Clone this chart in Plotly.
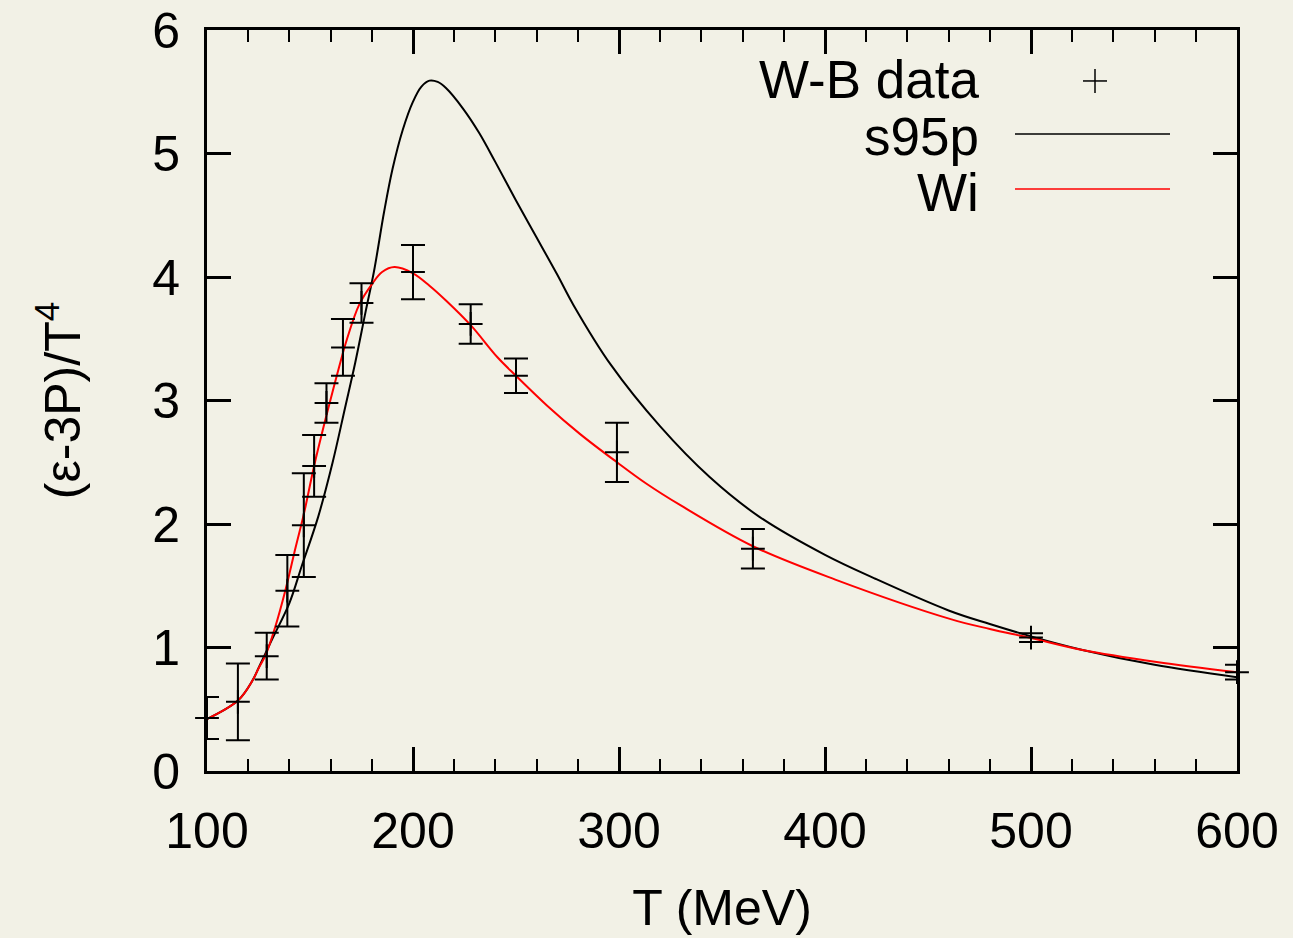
import plotly.graph_objects as go

# ---- data ----
wb_T = [100, 115, 129, 139, 147, 152, 158, 166, 175, 200, 228, 250, 299, 365, 500, 600]
wb_val = [0.43, 0.56, 0.93, 1.46, 1.99, 2.47, 2.98, 3.43, 3.79, 4.04, 3.62, 3.20, 2.58, 1.80, 1.08, 0.80]
wb_err = [0.17, 0.31, 0.19, 0.29, 0.42, 0.25, 0.16, 0.23, 0.16, 0.22, 0.16, 0.14, 0.24, 0.16, 0.035, 0.06]

s95p_T = [100, 115, 122, 126, 132, 140, 146, 154, 161, 167, 172, 177, 181, 186, 190, 195, 200,
          204, 208, 212, 216, 224, 232, 240, 250, 260, 270, 278, 296, 320, 344, 368, 400, 424,
          460, 480, 500, 525, 560, 600]
s95p_val = [0.42, 0.57, 0.73, 0.87, 1.08, 1.36, 1.66, 2.06, 2.50, 2.94, 3.31, 3.72, 4.04, 4.53,
            4.87, 5.19, 5.42, 5.54, 5.59, 5.58, 5.53, 5.37, 5.17, 4.93, 4.62, 4.32, 4.02, 3.77,
            3.29, 2.79, 2.38, 2.06, 1.75, 1.56, 1.30, 1.19, 1.09, 0.98, 0.86, 0.76]

wi_T = [100, 115, 122, 125, 128.5, 133, 138, 143, 147, 152, 158, 163, 168, 174, 180, 185, 191,
        200, 208, 216, 228, 241, 250, 265, 281, 299, 313, 330, 365, 405, 461, 480, 500,
        525, 561, 600]
wi_val = [0.42, 0.57, 0.73, 0.83, 0.94, 1.16, 1.46, 1.81, 2.08, 2.47, 2.88, 3.20, 3.50, 3.78,
          3.94, 4.04, 4.08, 4.03, 3.93, 3.81, 3.61, 3.35, 3.20, 2.96, 2.73, 2.50, 2.33, 2.15,
          1.82, 1.55, 1.23, 1.15, 1.077, 0.98, 0.883, 0.80]

legend_labels = ["W-B data", "s95p", "Wi"]

BG = "rgb(242,241,230)"
FONT = "Liberation Sans, Arial, sans-serif"

fig = go.Figure()
fig.add_trace(go.Scatter(x=s95p_T, y=s95p_val, mode="lines", name="s95p",
                         line=dict(color="black", width=2, shape="spline", smoothing=1.0),
                         showlegend=False))
fig.add_trace(go.Scatter(x=wi_T, y=wi_val, mode="lines", name="Wi",
                         line=dict(color="rgb(255,0,0)", width=2, shape="spline", smoothing=1.0),
                         showlegend=False))
fig.add_trace(go.Scatter(x=wb_T, y=wb_val, mode="markers", name="W-B data",
                         marker=dict(symbol="cross-thin", size=17,
                                     line=dict(color="black", width=2)),
                         error_y=dict(type="data", array=wb_err, visible=True,
                                      color="black", thickness=2, width=12),
                         cliponaxis=False, showlegend=False))

# ---- manual legend (text left, sample right) ----
def px2paper_x(px):
    return (px - 207) / 1030.0

def px2paper_y(py):
    return (771.5 - py) / 741.5

text_y = [80, 137, 193]
for lab, ty in zip(legend_labels, text_y):
    fig.add_annotation(x=px2paper_x(981), y=px2paper_y(ty), xref="paper", yref="paper",
                       text=lab, showarrow=False, xanchor="right", yanchor="middle",
                       font=dict(family=FONT, size=53, color="black"))

# plus sample
cx, cy = px2paper_x(1095), px2paper_y(81)
fig.add_shape(type="line", xref="paper", yref="paper",
              x0=cx - 12 / 1030, x1=cx + 12 / 1030, y0=cy, y1=cy,
              line=dict(color="black", width=1.5))
fig.add_shape(type="line", xref="paper", yref="paper",
              x0=cx, x1=cx, y0=cy - 12 / 741.5, y1=cy + 12 / 741.5,
              line=dict(color="black", width=1.5))
# line samples
fig.add_shape(type="line", xref="paper", yref="paper",
              x0=px2paper_x(1015), x1=px2paper_x(1170), y0=px2paper_y(134), y1=px2paper_y(134),
              line=dict(color="black", width=1.5))
fig.add_shape(type="line", xref="paper", yref="paper",
              x0=px2paper_x(1015), x1=px2paper_x(1170), y0=px2paper_y(189), y1=px2paper_y(189),
              line=dict(color="rgb(255,0,0)", width=1.5))

axis_common = dict(showgrid=False, zeroline=False, showline=True, linecolor="black",
                   linewidth=3, mirror="allticks", ticks="inside", tickcolor="black",
                   tickwidth=3, ticklen=24,
                   tickfont=dict(family=FONT, size=50, color="black"))

fig.update_xaxes(range=[100, 600], tick0=100, dtick=100,
                 minor=dict(dtick=20, ticks="inside", ticklen=12, tickwidth=2, tickcolor="black"),
                 ticklabelstandoff=14,
                 title=dict(text="T (MeV)", font=dict(family=FONT, size=50, color="black"),
                            standoff=32),
                 **axis_common)
fig.update_yaxes(range=[0, 6], tick0=0, dtick=1, ticklabelstandoff=14,
                 title=dict(text="(ε-3P)/T<sup>4</sup>", font=dict(family=FONT, size=50, color="black"),
                            standoff=56),
                 **axis_common)

fig.update_layout(width=1293, height=938, paper_bgcolor=BG, plot_bgcolor=BG,
                  margin=dict(l=207, r=56, t=30, b=166.5, autoexpand=False),
                  showlegend=False)

fig.write_html("out.html")
